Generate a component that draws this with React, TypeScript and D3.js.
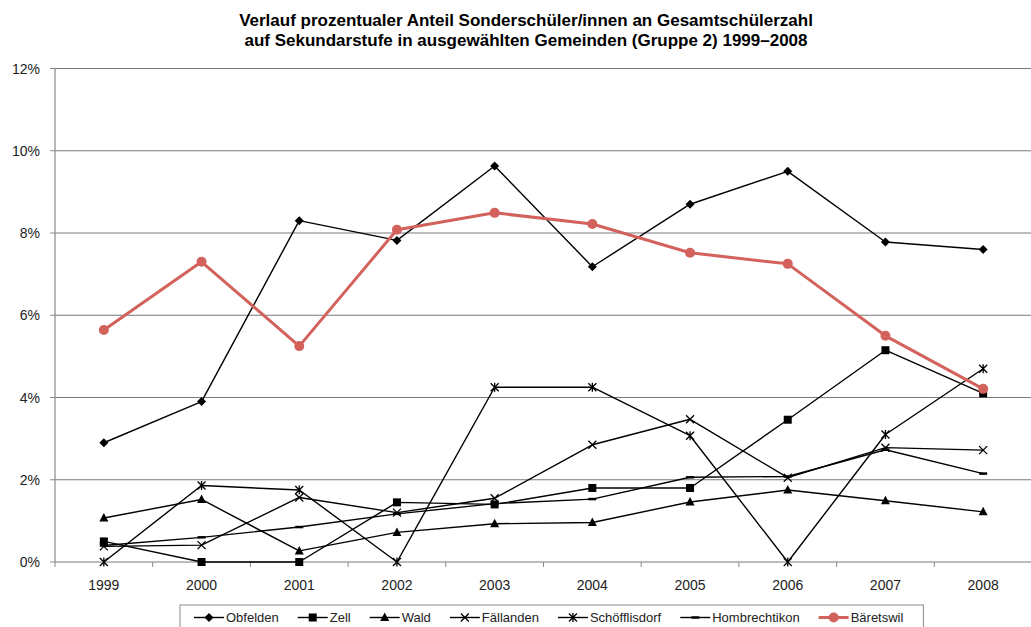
import React from "react";
import * as d3 from "d3";

const years = ["1999", "2000", "2001", "2002", "2003", "2004", "2005", "2006", "2007", "2008"];
const yTicks = [0, 2, 4, 6, 8, 10, 12];

const obfelden = [2.9, 3.9, 8.3, 7.82, 9.63, 7.18, 8.7, 9.5, 7.78, 7.6];
const zell = [0.5, 0, 0, 1.45, 1.4, 1.8, 1.8, 3.46, 5.15, 4.1];
const wald = [1.07, 1.52, 0.27, 0.72, 0.93, 0.96, 1.46, 1.75, 1.49, 1.22];
const faellanden = [0.38, 0.41, 1.57, 1.2, 1.55, 2.85, 3.47, 2.05, 2.78, 2.72];
const schoefflisdorf = [0, 1.86, 1.75, 0, 4.25, 4.25, 3.07, 0, 3.1, 4.7];
const hombrechtikon = [0.4, 0.6, 0.85, 1.17, 1.42, 1.53, 2.06, 2.08, 2.73, 2.15];
const baeretswil = [5.64, 7.3, 5.25, 8.08, 8.49, 8.22, 7.52, 7.25, 5.5, 4.21];

const seriesNames = ["Obfelden", "Zell", "Wald", "Fällanden", "Schöfflisdorf", "Hombrechtikon", "Bäretswil"];
const seriesValues = [obfelden, zell, wald, faellanden, schoefflisdorf, hombrechtikon, baeretswil];
const seriesMarkers = ["diamond", "square", "triangle", "x", "star", "dash", "circle"];
const seriesColors = ["#000", "#000", "#000", "#000", "#000", "#000", "#d2625b"];

const titleLines = [
  "Verlauf prozentualer Anteil Sonderschüler/innen an Gesamtschülerzahl",
  "auf Sekundarstufe in ausgewählten Gemeinden (Gruppe 2) 1999–2008",
];

const FONT = "Liberation Sans, Arial, sans-serif";

function Marker({ type, x, y, color }: { type: string; x: number; y: number; color: string }) {
  switch (type) {
    case "diamond":
      return <path d={`M${x},${y - 4.5}L${x + 4.5},${y}L${x},${y + 4.5}L${x - 4.5},${y}Z`} fill={color} />;
    case "square":
      return <rect x={x - 4} y={y - 4} width={8} height={8} fill={color} />;
    case "triangle":
      return <path d={`M${x},${y - 5}L${x + 4.5},${y + 3.5}L${x - 4.5},${y + 3.5}Z`} fill={color} />;
    case "x":
      return (
        <path d={`M${x - 4},${y - 4}L${x + 4},${y + 4}M${x - 4},${y + 4}L${x + 4},${y - 4}`} stroke={color} strokeWidth={1.3} />
      );
    case "star":
      return (
        <path
          d={`M${x - 4},${y - 4}L${x + 4},${y + 4}M${x - 4},${y + 4}L${x + 4},${y - 4}M${x},${y - 4.5}L${x},${y + 4.5}`}
          stroke={color}
          strokeWidth={1.3}
        />
      );
    case "dash":
      return <path d={`M${x - 4},${y}L${x + 4},${y}`} stroke={color} strokeWidth={2.5} />;
    case "circle":
      return <circle cx={x} cy={y} r={5} fill={color} />;
    default:
      return null;
  }
}

function measure(text: string, font: string): number {
  const c = document.createElement("canvas").getContext("2d");
  if (!c) return text.length * 7;
  c.font = font;
  return c.measureText(text).width;
}

export default function App() {
  const W = 1031;
  const H = 627;
  const left = 55;
  const right = 1032;
  const top = 68.5;
  const bottom = 562;

  const x = d3.scaleBand<string>().domain(years).range([left, right]).padding(0);
  const bw = x.bandwidth();
  const cx = (yr: string) => (x(yr) as number) + bw / 2;
  const y = d3.scaleLinear().domain([0, 12]).range([bottom, top]);

  const line = d3
    .line<number>()
    .x((_, i) => cx(years[i]))
    .y((d) => y(d));

  // legend layout
  const legFont = `13px ${FONT}`;
  const legStart = 194;
  const lineW = 30;
  const gap = 2;
  const itemGap = 19;
  let cur = legStart;
  const legItems = seriesNames.map((n) => {
    const tw = measure(n, legFont);
    const item = { x: cur, tw };
    cur += lineW + gap + tw + itemGap;
    return item;
  });
  const legBoxLeft = 180;
  const legBoxRight = cur - itemGap + 20;

  return (
    <svg width={W} height={H} style={{ position: "absolute", left: 0, top: 0, background: "#fff" }} fontFamily={FONT}>
      <rect x={0} y={0} width={W} height={H} fill="#fff" />
      {titleLines.map((t, i) => (
        <text key={i} x={526} y={25.5 + i * 20.5} textAnchor="middle" fontSize={17} fontWeight="bold" fill="#000">
          {t}
        </text>
      ))}

      {/* gridlines */}
      {yTicks.map((t) => (
        <line key={t} x1={left} x2={right} y1={y(t)} y2={y(t)} stroke="#7a7a7a" strokeWidth={t === 0 ? 1.2 : 1} />
      ))}
      {/* y axis */}
      <line x1={left} x2={left} y1={top} y2={bottom} stroke="#8a8a8a" strokeWidth={1.2} />
      {yTicks.map((t) => (
        <g key={"yt" + t}>
          <line x1={left - 5} x2={left} y1={y(t)} y2={y(t)} stroke="#8a8a8a" />
          <text x={40} y={y(t) + 5} textAnchor="end" fontSize={14} fill="#222">
            {t + "%"}
          </text>
        </g>
      ))}
      {/* x axis ticks */}
      {years.map((yr) => (
        <line key={"xt" + yr} x1={x(yr) as number} x2={x(yr) as number} y1={bottom} y2={bottom + 5} stroke="#8a8a8a" />
      ))}
      {years.map((yr) => (
        <text key={"xl" + yr} x={cx(yr)} y={590} textAnchor="middle" fontSize={14} fill="#222">
          {yr}
        </text>
      ))}

      {/* series */}
      {seriesValues.map((vals, si) => (
        <g key={seriesNames[si]}>
          <path
            d={line(vals) || ""}
            fill="none"
            stroke={seriesColors[si]}
            strokeWidth={si === 6 ? 3 : 1.4}
            strokeLinejoin="round"
          />
          {vals.map((v, i) => (
            <Marker key={i} type={seriesMarkers[si]} x={cx(years[i])} y={y(v)} color={seriesColors[si]} />
          ))}
        </g>
      ))}

      {/* legend */}
      <rect
        x={legBoxLeft}
        y={605}
        width={legBoxRight - legBoxLeft}
        height={30}
        fill="#fff"
        stroke="#8a8a8a"
        strokeWidth={1}
      />
      {seriesNames.map((n, si) => {
        const it = legItems[si];
        const ly = 617.5;
        return (
          <g key={"lg" + n}>
            <line
              x1={it.x}
              x2={it.x + lineW}
              y1={ly}
              y2={ly}
              stroke={seriesColors[si]}
              strokeWidth={si === 6 ? 3 : 1.4}
            />
            <Marker type={seriesMarkers[si]} x={it.x + lineW / 2} y={ly} color={seriesColors[si]} />
            <text x={it.x + lineW + gap} y={622} fontSize={13} fill="#222">
              {n}
            </text>
          </g>
        );
      })}
    </svg>
  );
}
